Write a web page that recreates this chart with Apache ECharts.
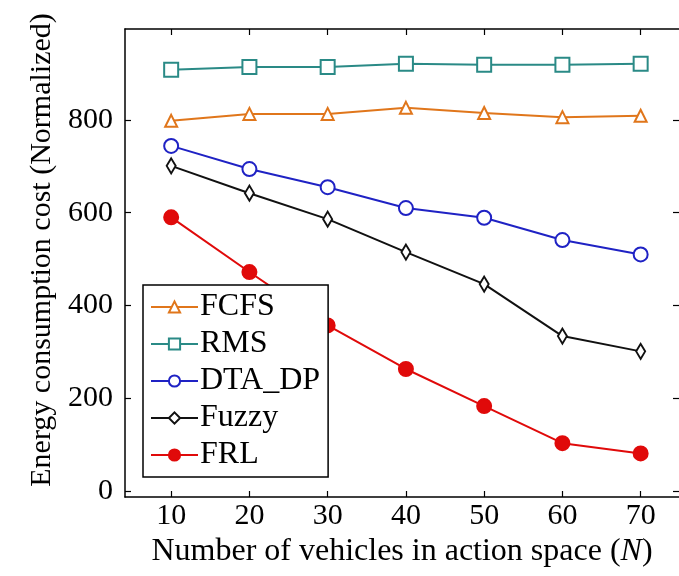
<!DOCTYPE html>
<html>
<head>
<meta charset="utf-8">
<script src="https://cdn.jsdelivr.net/npm/echarts@6/dist/echarts.min.js"></script>
<style>html,body{margin:0;padding:0;background:#fff}#c{width:679px;height:576px}</style>
</head>
<body>
<div id="c"></div>
<script>
const xValues = [10, 20, 30, 40, 50, 60, 70];
const fcfs  = [798, 813, 813, 826, 815, 806, 809];
const rms   = [908, 914, 914, 921, 919, 919, 921];
const dtadp = [744, 694, 655, 610, 589, 541, 510];
const fuzzy = [701, 642, 586, 515, 446, 334, 301];
const frl   = [590, 472, 357, 263, 183, 103, 81];
const yTicks = [0, 200, 400, 600, 800];
const seriesNames = ['FCFS', 'RMS', 'DTA_DP', 'Fuzzy', 'FRL'];

const FONT = 'Liberation Serif';
const zip = arr => xValues.map((x, i) => [x, arr[i]]);

const mk = (name, data, color, symbol, size, filled) => ({
  name, type: 'line', data: zip(data),
  symbol, symbolSize: size, showSymbol: true,
  lineStyle: { color, width: 2 },
  itemStyle: { color: filled ? color : '#fff', borderColor: color, borderWidth: 2 },
  emphasis: { disabled: true },
  z: 3
});

const tickStyle = { color: '#000', width: 1.2 };
const lineStyle = { color: '#000', width: 1.5 };

const chart = echarts.init(document.getElementById('c'));
chart.setOption({
  animation: false,
  backgroundColor: '#fff',
  grid: { left: 125, top: 29, right: 0, bottom: 79, show: false },
  xAxis: [{
    type: 'value', min: 4.1, max: 74.9,
    name: 'Number of vehicles in action space ({i|N})',
    nameLocation: 'middle', nameGap: 28,
    nameTextStyle: { fontFamily: FONT, fontSize: 32, color: '#000',
      rich: { i: { fontFamily: FONT, fontSize: 32, fontStyle: 'italic', color: '#000' } } },
    axisLine: { show: true, onZero: false, lineStyle },
    axisTick: { show: true, inside: true, length: 6, customValues: xValues, lineStyle: tickStyle },
    axisLabel: { customValues: xValues, fontFamily: FONT, fontSize: 30, color: '#000', margin: 4 },
    splitLine: { show: false }
  }, {
    type: 'value', min: 4.1, max: 74.9, position: 'top',
    axisLine: { show: true, onZero: false, lineStyle },
    axisTick: { show: true, inside: true, length: 6, customValues: xValues, lineStyle: tickStyle },
    axisLabel: { show: false },
    splitLine: { show: false }
  }],
  yAxis: [{
    type: 'value', min: -13, max: 996,
    name: 'Energy consumption cost (Normalized)',
    nameLocation: 'middle', nameGap: 62,
    nameTextStyle: { fontFamily: FONT, fontSize: 30, color: '#000', padding: [0, 0, 0, 26] },
    axisLine: { show: true, onZero: false, lineStyle },
    axisTick: { show: true, inside: true, length: 6, customValues: yTicks, lineStyle: tickStyle },
    axisLabel: { customValues: yTicks, fontFamily: FONT, fontSize: 30, color: '#000', margin: 12 },
    splitLine: { show: false }
  }, {
    type: 'value', min: -13, max: 996, position: 'right',
    axisLine: { show: false, onZero: false },
    axisTick: { show: true, inside: true, length: 6, customValues: yTicks, lineStyle: tickStyle },
    axisLabel: { show: false },
    splitLine: { show: false }
  }],
  legend: {
    orient: 'vertical', left: 143, top: 285,
    data: seriesNames,
    backgroundColor: '#fff', borderColor: '#000', borderWidth: 1.5, borderRadius: 0,
    padding: [6, 8, 6, 7],
    itemWidth: 47, itemHeight: 14, itemGap: 5,
    textStyle: { fontFamily: FONT, fontSize: 32, color: '#000', padding: [0, 0, 0, -3] },
    z: 10
  },
  series: [
    mk('FCFS', fcfs, '#e0761b', 'triangle', 12, false),
    mk('RMS', rms, '#2a8a86', 'rect', 14, false),
    mk('DTA_DP', dtadp, '#1f22c4', 'circle', 14, false),
    mk('Fuzzy', fuzzy, '#111111', 'diamond', [9, 15], false),
    mk('FRL', frl, '#e00a0a', 'circle', 14, true)
  ]
});
</script>
</body>
</html>
